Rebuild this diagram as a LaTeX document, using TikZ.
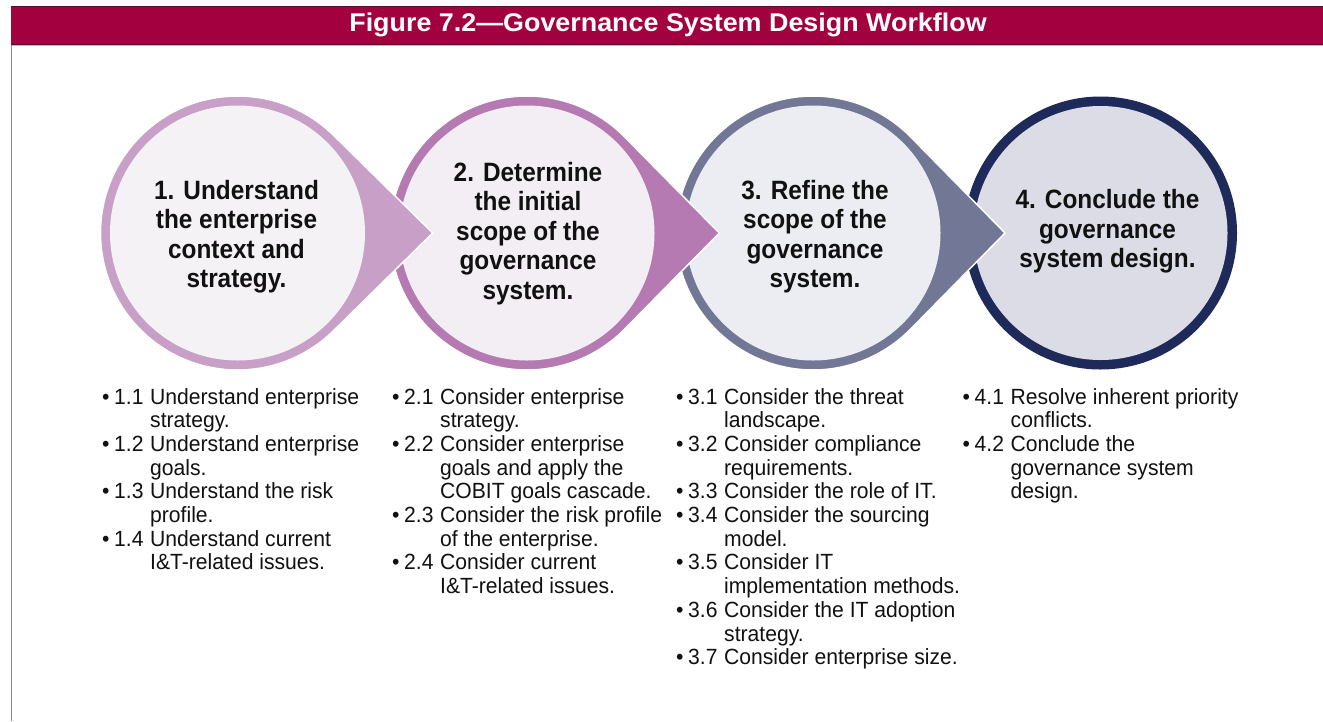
\documentclass[tikz,border=0pt]{standalone}
\usepackage{fontspec}
\setmainfont{Liberation Sans}
\newfontfamily\circfont{Liberation Sans}[FakeStretch=0.92]
\newfontfamily\listfont{Liberation Sans}[FakeStretch=0.96]
\newfontfamily\titlefont{Liberation Sans}[FakeStretch=1.05]
\usetikzlibrary{calc}
\definecolor{titlecol}{HTML}{A3003F}
\definecolor{titledark}{HTML}{5E0A2A}
\definecolor{framegray}{HTML}{8A8A8A}
\definecolor{ringA}{HTML}{C79FC7}
\definecolor{fillA}{HTML}{F5F2F6}
\definecolor{ringB}{HTML}{B57AB1}
\definecolor{fillB}{HTML}{F3EEF3}
\definecolor{ringC}{HTML}{737796}
\definecolor{fillC}{HTML}{ECEDF3}
\definecolor{ringD}{HTML}{1E2A5A}
\definecolor{fillD}{HTML}{DCDCE7}
\definecolor{txt}{HTML}{111111}
\newcommand\litem[1]{\makebox[12pt][l]{\textbullet}\makebox[36pt][l]{#1}}
\newcommand\lind{\hspace*{48pt}}
\begin{document}
\begin{tikzpicture}[x=1pt,y=-1pt,
  ctext/.style={inner sep=0pt, anchor=base, text=txt,
    font=\circfont\bfseries\fontsize{26.5}{29.5}\selectfont},
  ltext/.style={inner sep=0pt, anchor=base west, text=txt,
    font=\listfont\fontsize{22}{23.7}\selectfont},
  titletext/.style={inner sep=0pt, anchor=base, text=white,
    font=\titlefont\bfseries\fontsize{25.6}{28}\selectfont},
  tear/.style={draw=white, line width=1.5pt}]
\useasboundingbox (0,0) rectangle (1323,721);
\fill[white] (0,0) rectangle (1323,721);
% title bar and frame
\fill[titlecol] (11,6) rectangle (1323,45);
\draw[titledark, line width=0.9pt] (11,6.5) -- (1323,6.5);
\draw[titledark, line width=0.9pt] (11,44.5) -- (1323,44.5);
\draw[framegray!60, line width=0.8pt] (11,45.6) -- (1323,45.6);
\draw[framegray, line width=1pt] (11,45) -- (11,721);
\node[titletext] (title) at (668,31.7) {Figure 7.2—Governance System Design Workflow};
% centres
\coordinate (c1) at (237.5,233);
\coordinate (c2) at (527,233);
\coordinate (c3) at (813,233);
\coordinate (c4) at (1100.5,233);
\coordinate (p1) at (432.7,233);
\coordinate (p2) at (719.3,233);
\coordinate (p3) at (1005,233);
% circle 4
\fill[ringD] (c4) circle[radius=136.5pt];
\fill[fillD] (c4) circle[radius=127pt];
% circle 3
\pgfmathsetmacro\thC{acos(137/192)}
\filldraw[ringC, tear] (p3) -- ($(c3)+(\thC:137pt)$) arc[start angle=\thC, end angle=360-\thC, radius=137pt] -- cycle;
\fill[fillC] (c3) circle[radius=127.5pt];
% circle 2
\pgfmathsetmacro\thB{acos(137/192.3)}
\filldraw[ringB, tear] (p2) -- ($(c2)+(\thB:137pt)$) arc[start angle=\thB, end angle=360-\thB, radius=137pt] -- cycle;
\fill[fillB] (c2) circle[radius=127.5pt];
% circle 1
\pgfmathsetmacro\thA{acos(137/195.2)}
\filldraw[ringA, tear] (p1) -- ($(c1)+(\thA:137pt)$) arc[start angle=\thA, end angle=360-\thA, radius=137pt] -- cycle;
\fill[fillA] (c1) circle[radius=127.5pt];
% circle texts
\node[ctext] (t1) at (236.5,199.3) {\parbox[t]{250pt}{\centering 1. Understand\\the enterprise\\context and\\strategy.}};
\node[ctext] (t2) at (528,181) {\parbox[t]{250pt}{\centering 2. Determine\\the initial\\scope of the\\governance\\system.}};
\node[ctext] (t3) at (815,199) {\parbox[t]{250pt}{\centering 3. Refine the\\scope of the\\governance\\system.}};
\node[ctext] (t4) at (1107.5,208.5) {\parbox[t]{250pt}{\centering 4. Conclude the\\governance\\system design.}};
% lists
\node[ltext] (l1) at (102,404) {\parbox[t]{300pt}{\raggedright
\litem{1.1}Understand enterprise\\\lind strategy.\\
\litem{1.2}Understand enterprise\\\lind goals.\\
\litem{1.3}Understand the risk\\\lind profile.\\
\litem{1.4}Understand current\\\lind I\&T-related issues.}};
\node[ltext] (l2) at (392,404) {\parbox[t]{300pt}{\raggedright
\litem{2.1}Consider enterprise\\\lind strategy.\\
\litem{2.2}Consider enterprise\\\lind goals and apply the\\\lind COBIT goals cascade.\\
\litem{2.3}Consider the risk profile\\\lind of the enterprise.\\
\litem{2.4}Consider current\\\lind I\&T-related issues.}};
\node[ltext] (l3) at (676,404) {\parbox[t]{300pt}{\raggedright
\litem{3.1}Consider the threat\\\lind landscape.\\
\litem{3.2}Consider compliance\\\lind requirements.\\
\litem{3.3}Consider the role of IT.\\
\litem{3.4}Consider the sourcing\\\lind model.\\
\litem{3.5}Consider IT\\\lind implementation methods.\\
\litem{3.6}Consider the IT adoption\\\lind strategy.\\
\litem{3.7}Consider enterprise size.}};
\node[ltext] (l4) at (962.5,404) {\parbox[t]{300pt}{\raggedright
\litem{4.1}Resolve inherent priority\\\lind conflicts.\\
\litem{4.2}Conclude the\\\lind governance system\\\lind design.}};
\end{tikzpicture}
\end{document}
